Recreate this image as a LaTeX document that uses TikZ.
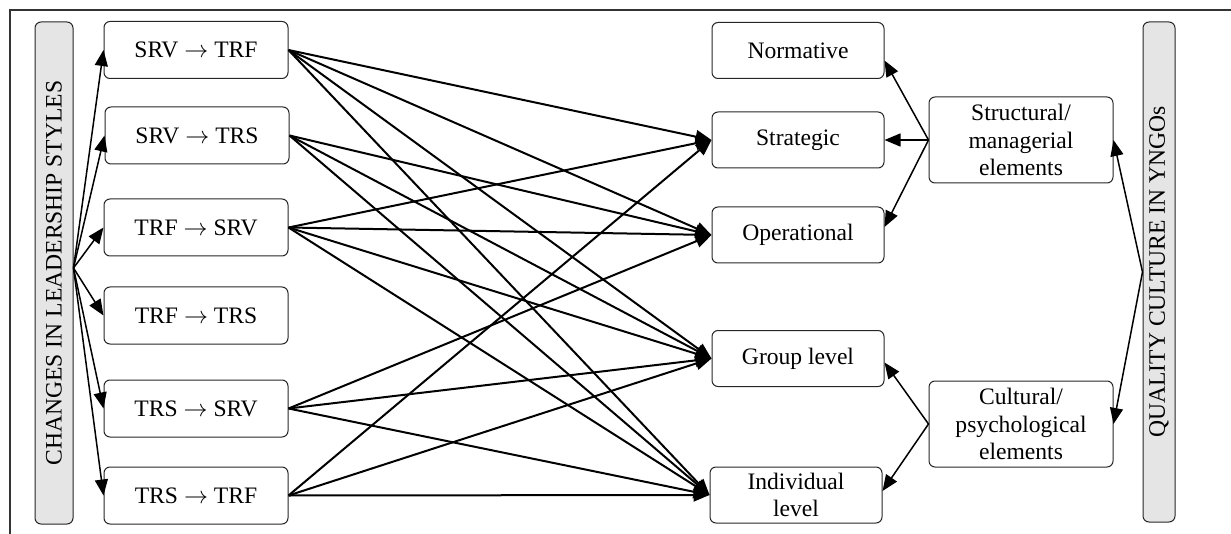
\documentclass[tikz,border=0pt]{standalone}
\usepackage{fontspec}
\setmainfont{Liberation Serif}
\usetikzlibrary{arrows.meta,calc}
\begin{document}
\begin{tikzpicture}[x=0.5pt,y=-0.5pt,
  txt/.style={font=\fontsize{11.8}{13.6}\selectfont},
  box/.style={draw=black!85, line width=0.5pt, rounded corners=3pt, align=center, inner sep=1pt, txt},
  lbox/.style={box, minimum width=92pt, minimum height=28.5pt},
  mbox/.style={box, minimum width=86pt, minimum height=28pt},
  ebox/.style={box, minimum width=92pt, minimum height=43pt},
  bar/.style={draw=black!85, line width=0.5pt, rounded corners=3pt, fill=black!10},
  conn/.style={line width=1pt, -{Triangle[length=8pt,width=6.5pt]}},
  thinconn/.style={conn, line width=0.75pt},
  frame/.style={line width=0.8pt, black!80}
]
\useasboundingbox (0,0) rectangle (1231,534);
\draw[frame] (10,534) -- (10,10) -- (1231,10);

% bars
\node[bar, minimum width=19pt, minimum height=251pt] (lbar) at (54,273) {};
\node[rotate=90, txt] (ltext) at (lbar.center) {CHANGES IN LEADERSHIP STYLES};
\node[bar, minimum width=16pt, minimum height=250pt] (rbar) at (1159,272) {};
\node[rotate=90, txt] (rtext) at (rbar.center) {QUALITY CULTURE IN YNGOs};

% left boxes
\node[lbox] (a1) at (196,50)  {SRV $\rightarrow$ TRF};
\node[lbox] (a2) at (197,135.5) {SRV $\rightarrow$ TRS};
\node[lbox] (a3) at (196,227.5) {TRF $\rightarrow$ SRV};
\node[lbox] (a4) at (196,315.5) {TRF $\rightarrow$ TRS};
\node[lbox] (a5) at (196,408.5) {TRS $\rightarrow$ SRV};
\node[lbox] (a6) at (196,495.5) {TRS $\rightarrow$ TRF};

% middle boxes
\node[mbox] (norm)  at (798,50.5) {Normative};
\node[mbox] (strat) at (798,140) {Strategic};
\node[mbox] (oper)  at (798,235) {Operational};
\node[mbox] (group) at (798,358.5) {Group level};
\node[mbox] (indiv) at (796,495) {Individual\\level};

% element boxes
\node[ebox] (struct) at (1021,140) {Structural/\\managerial\\elements};
\node[ebox] (cult)   at (1021,424) {Cultural/\\psychological\\elements};

% left bar to left boxes
\foreach \b in {a1,a2,a3,a4,a5,a6}
  \draw[thinconn] ([yshift=2.5pt]lbar.east) -- (\b.west);

% left boxes to middle boxes
\foreach \t in {strat,oper,group,indiv} \draw[conn] (a1.east) -- (\t.west);
\foreach \t in {oper,group,indiv} \draw[conn] (a2.east) -- (\t.west);
\foreach \t in {strat,oper,group,indiv} \draw[conn] (a3.east) -- (\t.west);
\foreach \t in {oper,group,indiv} \draw[conn] (a5.east) -- (\t.west);
\foreach \t in {strat,group,indiv} \draw[conn] (a6.east) -- (\t.west);

% element boxes to middle boxes
\draw[thinconn] (struct.west) -- ([yshift=-5pt]norm.east);
\draw[thinconn] (struct.west) -- (strat.east);
\draw[thinconn] (struct.west) -- ([yshift=4pt]oper.east);
\draw[thinconn] (cult.west) -- ([yshift=-2pt]group.east);
\draw[thinconn] (cult.west) -- ([yshift=2pt]indiv.east);

% right bar to element boxes
\draw[thinconn] (rbar.west) -- (struct.east);
\draw[thinconn] (rbar.west) -- (cult.east);
\end{tikzpicture}
\end{document}
